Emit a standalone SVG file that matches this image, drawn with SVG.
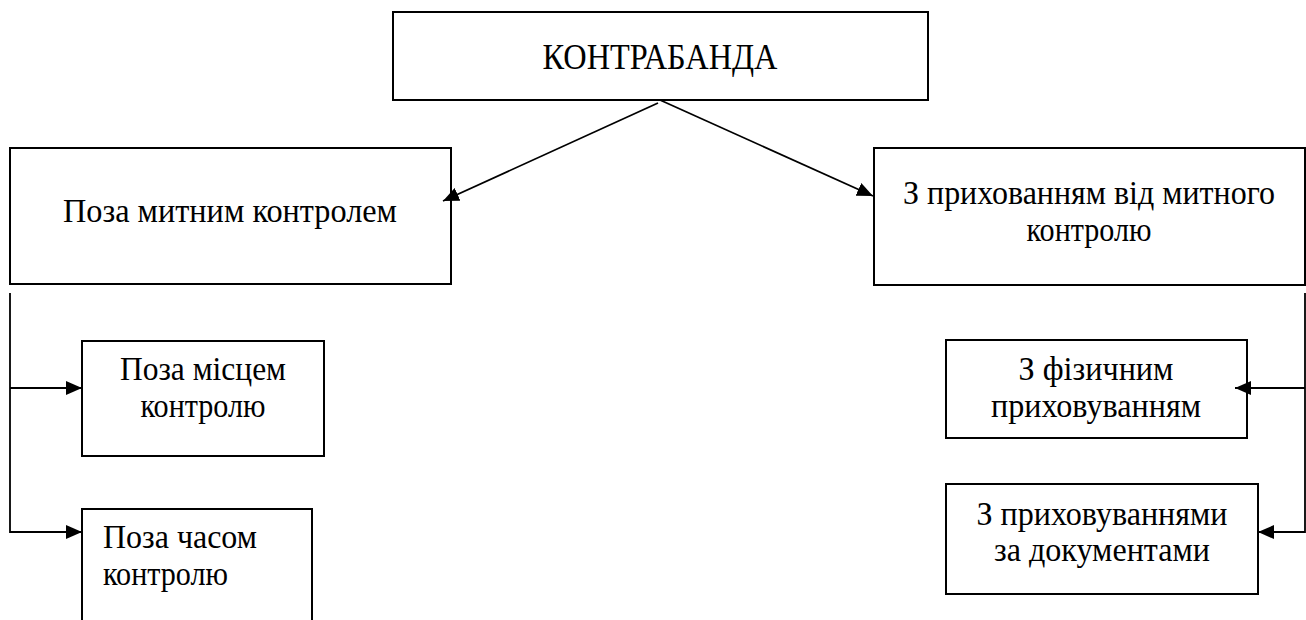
<svg xmlns="http://www.w3.org/2000/svg" width="1306" height="620" viewBox="0 0 1306 620">
<style>
.box{fill:#fff;stroke:#000;stroke-width:2}
.t{font-family:"Liberation Serif","DejaVu Serif","Times New Roman",serif;font-size:33px;fill:#000}
.big{font-size:35px}
.m{text-anchor:middle}
.c{fill:none;stroke:#000;stroke-width:1.8}
</style>
<defs>
<marker id="ah" markerUnits="userSpaceOnUse" markerWidth="17" markerHeight="14" refX="16" refY="7" orient="auto">
<path d="M0,0 L16,7 L0,14 z" fill="#000"/>
</marker>
</defs>
<rect width="1306" height="620" fill="#fff"/>
<g id="n-contraband">
<rect class="box" x="393" y="12" width="535" height="88"/>
<text class="t big m" x="660" y="69" textLength="235" lengthAdjust="spacingAndGlyphs">КОНТРАБАНДА</text>
</g>
<g id="n-outside">
<rect class="box" x="10" y="148" width="441" height="136"/>
<text class="t m" x="230" y="222" textLength="334" lengthAdjust="spacingAndGlyphs">Поза митним контролем</text>
</g>
<g id="n-hidden">
<rect class="box" x="874" y="148" width="431" height="137"/>
<text class="t m" x="1089" y="204" textLength="372" lengthAdjust="spacingAndGlyphs">З прихованням від митного</text>
<text class="t m" x="1089" y="241" textLength="125" lengthAdjust="spacingAndGlyphs">контролю</text>
</g>
<g id="n-place">
<rect class="box" x="82" y="341" width="242" height="115"/>
<text class="t m" x="203" y="380" textLength="166" lengthAdjust="spacingAndGlyphs">Поза місцем</text>
<text class="t m" x="203" y="417" textLength="125" lengthAdjust="spacingAndGlyphs">контролю</text>
</g>
<g id="n-time">
<rect class="box" x="82" y="509" width="230" height="140"/>
<text class="t" x="103" y="548" textLength="154" lengthAdjust="spacingAndGlyphs">Поза часом</text>
<text class="t" x="103" y="585" textLength="125" lengthAdjust="spacingAndGlyphs">контролю</text>
</g>
<g id="n-physical">
<rect class="box" x="946" y="340" width="301" height="98"/>
<text class="t m" x="1096" y="380" textLength="155" lengthAdjust="spacingAndGlyphs">З фізичним</text>
<text class="t m" x="1096" y="417" textLength="210" lengthAdjust="spacingAndGlyphs">приховуванням</text>
</g>
<g id="n-documents">
<rect class="box" x="946" y="484" width="312" height="110"/>
<text class="t m" x="1102" y="525" textLength="251" lengthAdjust="spacingAndGlyphs">З приховуваннями</text>
<text class="t m" x="1102" y="561" textLength="216" lengthAdjust="spacingAndGlyphs">за документами</text>
</g>
<g id="connectors">
<line class="c" x1="658" y1="103" x2="443" y2="201" marker-end="url(#ah)"/>
<line class="c" x1="660" y1="100" x2="873" y2="196" marker-end="url(#ah)"/>
<polyline class="c" points="10,293 10,532 82,532" marker-end="url(#ah)"/>
<line class="c" x1="10" y1="388" x2="82" y2="388" marker-end="url(#ah)"/>
<polyline class="c" points="1305,293 1305,532 1258,532" marker-end="url(#ah)"/>
<line class="c" x1="1305" y1="388" x2="1235" y2="388" marker-end="url(#ah)"/>
</g>
</svg>
